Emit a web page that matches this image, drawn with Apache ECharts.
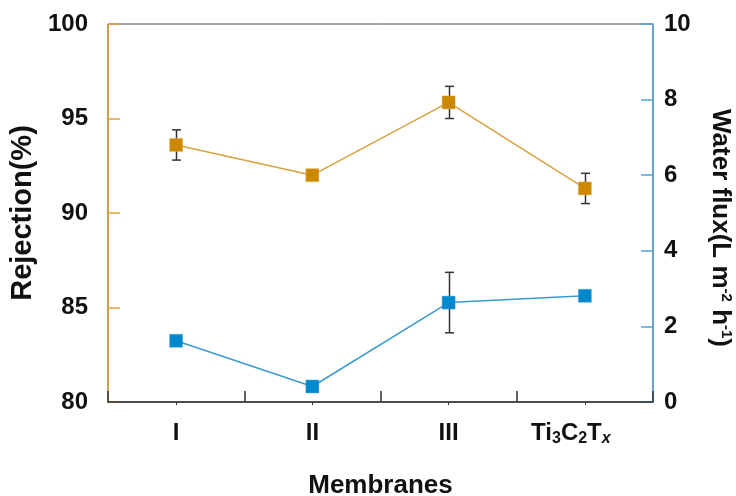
<!DOCTYPE html>
<html>
<head>
<meta charset="utf-8">
<script src="https://cdn.jsdelivr.net/npm/echarts@6/dist/echarts.min.js"></script>
<style>
html,body{margin:0;padding:0;background:#fff;}
#chart{width:736px;height:496px;}
</style>
</head>
<body>
<div id="chart"></div>
<script>
var categories = ['I', 'II', 'III', 'Ti3C2Tx'];
var rejection = [93.6, 92.0, 95.85, 91.3];
var rejectionErr = [0.8, 0, 0.85, 0.8];
var flux = [1.62, 0.41, 2.63, 2.81];
var fluxErr = [0, 0, 0.8, 0];
var leftTicks = [80, 85, 90, 95, 100];
var rightTicks = [0, 2, 4, 6, 8, 10];

var FONT = 'Liberation Sans, Arial, sans-serif';
var ORANGE_M = '#CC8800', ORANGE_L = '#D9A040', ORANGE_AX = '#DDA035';
var BLUE_M = '#0088CC', BLUE_L = '#3A9AD0', BLUE_AX = '#4FA6D6';

function labelFmt(v) {
  if (v === 'Ti3C2Tx') return '{n|Ti}{s|3}{n|C}{s|2}{n|T}{i|x}{e|}';
  return '{n|' + v + '}';
}

function errSeries(vals, errs, yIdx) {
  var data = vals.map(function (v, i) { return [i, v - errs[i], v + errs[i]]; })
    .filter(function (d, i) { return errs[i] > 0; });
  return {
    type: 'custom', xAxisIndex: 0, yAxisIndex: yIdx, z: 1,
    data: data,
    renderItem: function (params, api) {
      var lo = api.coord([api.value(0), api.value(1)]);
      var hi = api.coord([api.value(0), api.value(2)]);
      var x = Math.round(lo[0]) + 0.5, w = 4.5;
      var st = { stroke: '#333', lineWidth: 1.5 };
      return { type: 'group', children: [
        { type: 'line', shape: { x1: x, y1: lo[1], x2: x, y2: hi[1] }, style: st },
        { type: 'line', shape: { x1: x - w, y1: lo[1], x2: x + w, y2: lo[1] }, style: st },
        { type: 'line', shape: { x1: x - w, y1: hi[1], x2: x + w, y2: hi[1] }, style: st }
      ]};
    }
  };
}

var chart = echarts.init(document.getElementById('chart'), null, { renderer: 'canvas' });
chart.setOption({
  animation: false,
  backgroundColor: '#fff',
  grid: { left: 108, right: 83, top: 24, bottom: 94, outerBoundsMode: 'none', containLabel: false,
    show: true, borderColor: '#444', borderWidth: 1, backgroundColor: 'transparent' },
  xAxis: [{
    type: 'category', data: categories, boundaryGap: true, position: 'bottom',
    name: 'Membranes', nameLocation: 'middle', nameGap: 71,
    nameTextStyle: { fontFamily: FONT, fontWeight: 'bold', fontSize: 26, color: '#111' },
    axisLine: { show: true, lineStyle: { color: '#333', width: 1.5 } },
    axisTick: { show: true, interval: 0, inside: true, length: 11, alignWithLabel: false, lineStyle: { color: '#333', width: 1.5 } },
    axisLabel: {
      interval: 0, margin: 17, formatter: labelFmt,
      rich: {
        n: { fontFamily: FONT, fontWeight: 'bold', fontSize: 24, color: '#111', lineHeight: 28 },
        s: { fontFamily: FONT, fontWeight: 'bold', fontSize: 16, color: '#111', padding: [12, 0, 0, 0] },
        i: { fontFamily: FONT, fontWeight: 'bold', fontStyle: 'italic', fontSize: 16, color: '#111', padding: [12, 0, 0, 0] },
        e: { width: 28 }
      }
    },
    splitLine: { show: false }, z: 5
  }, {
    type: 'category', data: categories, boundaryGap: true, position: 'bottom', offset: 0,
    axisLine: { show: false },
    axisTick: { show: true, interval: 0, inside: false, length: 3, alignWithLabel: true, lineStyle: { color: '#333', width: 1 } },
    axisLabel: { show: false }, splitLine: { show: false }
  }],
  yAxis: [{
    type: 'value', min: 80, max: 100, interval: 5, position: 'left',
    name: 'Rejection(%)', nameLocation: 'middle', nameGap: 68, nameRotate: 90,
    nameTextStyle: { fontFamily: FONT, fontWeight: 'bold', fontSize: 29, color: '#111' },
    axisLine: { show: true, lineStyle: { color: ORANGE_AX, width: 1.5 } },
    axisTick: { show: true, inside: true, length: 12, lineStyle: { color: ORANGE_AX, width: 1.5 } },
    axisLabel: { margin: 20, fontFamily: FONT, fontWeight: 'bold', fontSize: 24, color: '#111',
      formatter: function (v) { return leftTicks.indexOf(v) >= 0 ? String(v) : ''; } },
    splitLine: { show: false }
  }, {
    type: 'value', min: 0, max: 10, interval: 2, position: 'right',
    name: 'Water flux(L m{sup|-2} h{sup|-1})', nameLocation: 'middle', nameGap: 54, nameRotate: -90,
    nameTextStyle: { fontFamily: FONT, fontWeight: 'bold', fontSize: 26, color: '#111', padding: [0, 0, 0, 30],
      rich: { sup: { fontFamily: FONT, fontWeight: 'bold', fontSize: 15, color: '#111', padding: [0, 0, 12, 0] } } },
    axisLine: { show: true, lineStyle: { color: BLUE_AX, width: 1.5 } },
    axisTick: { show: true, inside: true, length: 12, lineStyle: { color: BLUE_AX, width: 1.5 } },
    axisLabel: { margin: 11, fontFamily: FONT, fontWeight: 'bold', fontSize: 24, color: '#111',
      formatter: function (v) { return rightTicks.indexOf(v) >= 0 ? String(v) : ''; } },
    splitLine: { show: false }
  }],
  series: [
    errSeries(rejection, rejectionErr, 0),
    errSeries(flux, fluxErr, 1),
    {
      type: 'line', name: 'Rejection', xAxisIndex: 0, yAxisIndex: 0, data: rejection, z: 3,
      symbol: 'rect', symbolSize: 13,
      itemStyle: { color: ORANGE_M, borderColor: '#E0B050', borderWidth: 0.5 },
      lineStyle: { color: ORANGE_L, width: 1.5 }
    },
    {
      type: 'line', name: 'Flux', xAxisIndex: 0, yAxisIndex: 1, data: flux, z: 3,
      symbol: 'rect', symbolSize: 13,
      itemStyle: { color: BLUE_M, borderColor: '#50A8DA', borderWidth: 0.5 },
      lineStyle: { color: BLUE_L, width: 1.5 }
    }
  ]
});
</script>
</body>
</html>
